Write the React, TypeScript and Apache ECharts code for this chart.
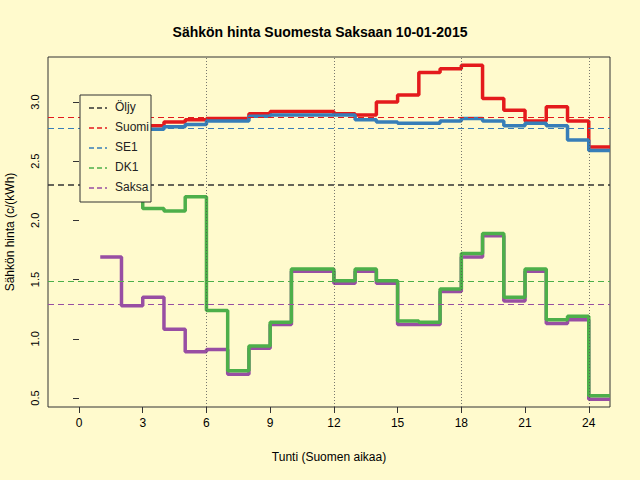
import * as echarts from 'echarts'
import { useEffect, useRef } from 'react'

const hours = Array.from({ length: 24 }, (_, i) => i + 1)
const suomi = [2.76, 2.77, 2.8, 2.83, 2.85, 2.86, 2.86, 2.9, 2.92, 2.92, 2.92, 2.9, 2.89, 3.0, 3.06, 3.25, 3.28, 3.31, 3.03, 2.93, 2.84, 2.96, 2.84, 2.62]
const se1 = [2.74, 2.75, 2.77, 2.79, 2.81, 2.84, 2.84, 2.88, 2.89, 2.89, 2.89, 2.89, 2.85, 2.83, 2.82, 2.82, 2.84, 2.86, 2.84, 2.8, 2.82, 2.8, 2.68, 2.59]
const dk1 = [2.2, 2.55, 2.1, 2.08, 2.2, 1.24, 0.73, 0.94, 1.14, 1.59, 1.59, 1.49, 1.59, 1.49, 1.15, 1.14, 1.42, 1.72, 1.89, 1.35, 1.59, 1.16, 1.19, 0.52]
const saksa = [1.69, 1.28, 1.35, 1.08, 0.89, 0.91, 0.7, 0.92, 1.12, 1.57, 1.57, 1.47, 1.57, 1.47, 1.12, 1.12, 1.4, 1.69, 1.87, 1.32, 1.57, 1.13, 1.16, 0.49]
const averages = [2.3, 2.87, 2.78, 1.49, 1.29]
const legendNames = ['Öljy', 'Suomi', 'SE1', 'DK1', 'Saksa']
const colors = ['#333333', '#e41a1c', '#377eb8', '#4daf4a', '#984ea3']
const gridHours = [6, 12, 18, 24]
const xTicks = [0, 3, 6, 9, 12, 15, 18, 21, 24]
const yTicks = [0.5, 1, 1.5, 2, 2.5, 3]

const steps = (vals: number[]) => [...hours.map((h, i) => [h, vals[i]]), [25, vals[vals.length - 1]]]

export default function App() {
  const ref = useRef<HTMLDivElement>(null)

  useEffect(() => {
    if (!ref.current) return
    const chart = echarts.init(ref.current, null, { renderer: 'svg' })
    const font = 'Liberation Sans'
    const lineSeries = [
      { name: 'Suomi', data: suomi, color: colors[1] },
      { name: 'SE1', data: se1, color: colors[2] },
      { name: 'Saksa', data: saksa, color: colors[4] },
      { name: 'DK1', data: dk1, color: colors[3] }
    ].map((s) => ({
      type: 'line' as const,
      name: s.name,
      step: 'end' as const,
      showSymbol: false,
      data: steps(s.data),
      lineStyle: { color: s.color, width: 3.5 },
      z: 3
    }))

    // legend box drawn by hand
    const lx = 80
    const ly = 95
    const legendItems: any[] = [
      { type: 'rect', shape: { x: lx, y: ly, width: 71, height: 107 }, style: { fill: '#fffacd', stroke: '#333', lineWidth: 1 }, z: 10 }
    ]
    legendNames.forEach((n, i) => {
      const y = ly + 13 + i * 20
      legendItems.push({ type: 'line', shape: { x1: lx + 9, y1: y, x2: lx + 27, y2: y }, style: { stroke: colors[i], lineWidth: 1.5, lineDash: [5, 3] }, z: 11 })
      legendItems.push({ type: 'text', x: lx + 35, y: y - 7, style: { text: n, font: `12px ${font}`, fill: '#222' }, z: 11 })
    })

    chart.setOption({
      animation: false,
      backgroundColor: '#fffacd',
      textStyle: { fontFamily: font },
      title: { text: 'Sähkön hinta Suomesta Saksaan 10-01-2015', left: 'center', top: 20, textStyle: { fontSize: 14, fontWeight: 'bold', color: '#000', fontFamily: font } },
      grid: { left: 48, right: 30, top: 57, bottom: 73, outerBoundsMode: 'none', containLabel: false, show: true, borderColor: '#333', borderWidth: 1, backgroundColor: 'transparent' },
      xAxis: {
        type: 'value', min: -1.46, max: 25, interval: 3,
        name: 'Tunti (Suomen aikaa)', nameLocation: 'middle', nameGap: 44,
        nameTextStyle: { fontSize: 12, color: '#000' },
        axisLabel: { color: '#000', fontSize: 12, margin: 10, customValues: xTicks },
        axisTick: { customValues: xTicks, lineStyle: { color: '#333' }, length: 6 },
        axisLine: { show: false }, splitLine: { show: false }
      },
      yAxis: {
        type: 'value', min: 0.424, max: 3.38,
        name: 'Sähkön hinta (c/(kWh)', nameLocation: 'middle', nameGap: 32,
        nameTextStyle: { fontSize: 12, color: '#000' },
        axisLabel: { color: '#000', fontSize: 11, rotate: 90, customValues: yTicks, formatter: (v: number) => v.toFixed(1) },
        axisTick: { customValues: yTicks, lineStyle: { color: '#333' }, length: 6 },
        axisLine: { show: false }, splitLine: { show: false }
      },
      series: [
        {
          type: 'line', data: [], silent: true, z: 2,
          markLine: {
            symbol: 'none', silent: true, label: { show: false },
            data: [
              ...gridHours.map((h) => ({ xAxis: h, lineStyle: { color: '#555', type: [1, 2], width: 0.8 } })),
              ...averages.map((v, i) => ({ yAxis: v, lineStyle: { color: colors[i], type: [6, 4], width: i === 0 ? 1.6 : 1.2 } }))
            ]
          }
        },
        ...lineSeries
      ],
      graphic: legendItems
    })
    return () => chart.dispose()
  }, [])

  return <div ref={ref} style={{ width: 640, height: 480, position: 'absolute', left: 0, top: 0 }} />
}
